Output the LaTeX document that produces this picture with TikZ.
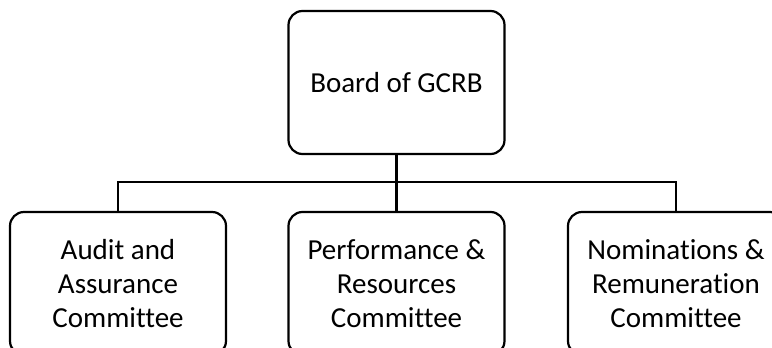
\documentclass[tikz,border=0pt]{standalone}
\usepackage{fontspec}
\setmainfont[Ligatures=NoCommon]{Carlito}
\begin{document}
\begin{tikzpicture}[x=1pt,y=-1pt,
  orgbox/.style={draw, line width=2.2pt, rounded corners=14pt, minimum width=216pt, minimum height=143pt, inner sep=0pt, align=center, font=\fontsize{29}{34}\selectfont},
  link/.style={draw, line width=2.2pt}]
\useasboundingbox (0,0) rectangle (772,348);
\clip (0,0) rectangle (772,348);
\node[orgbox] (top) at (396.5,82.5) {Board of GCRB};
\node[orgbox] (a) at (118,283.5) {Audit and\\Assurance\\Committee};
\node[orgbox] (b) at (396.5,283.5) {Performance \&\\Resources\\Committee};
\node[orgbox] (c) at (676,283.5) {Nominations \&\\Remuneration\\Committee};
\coordinate (hub) at (396.5,182);
\path[link] (top.south) -- (hub);
\path[link] (hub) -| (a.north);
\path[link] (hub) -| (c.north);
\path[link] (hub) -- (b.north);
\end{tikzpicture}
\end{document}
